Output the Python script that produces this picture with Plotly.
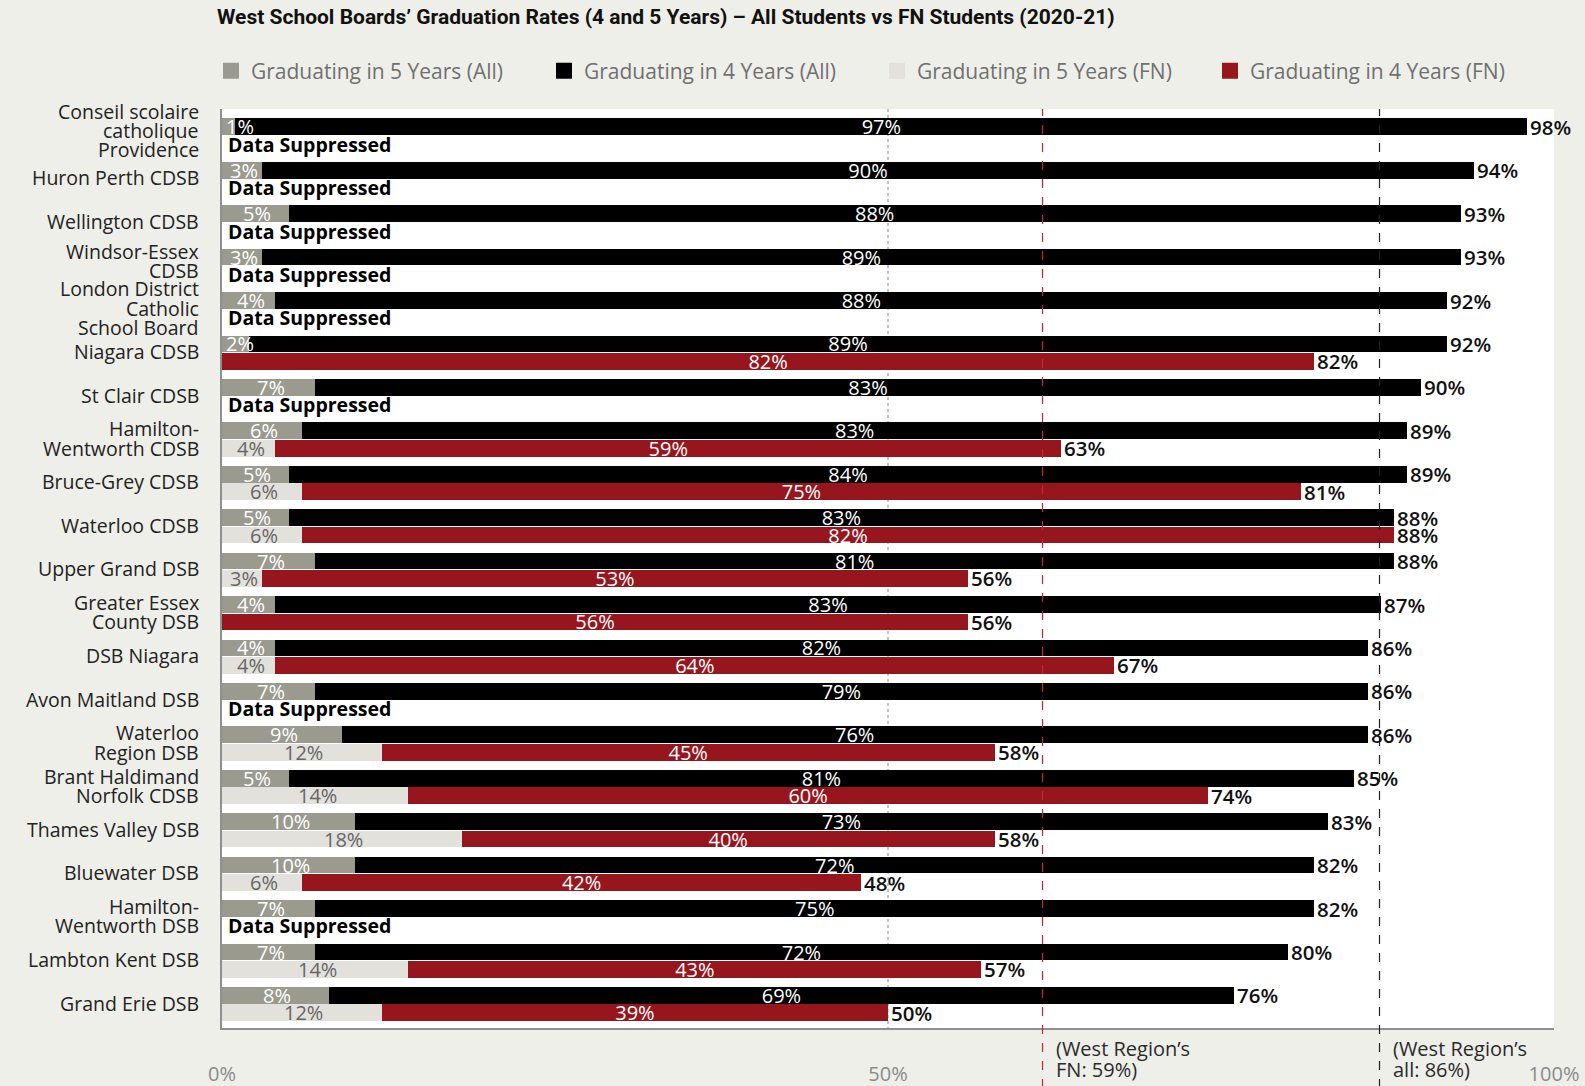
import plotly.graph_objects as go

# ---------------- data ----------------
boards = [
    "Conseil scolaire\ncatholique\nProvidence",
    "Huron Perth CDSB",
    "Wellington CDSB",
    "Windsor-Essex\nCDSB",
    "London District\nCatholic\nSchool Board",
    "Niagara CDSB",
    "St Clair CDSB",
    "Hamilton-\nWentworth CDSB",
    "Bruce-Grey CDSB",
    "Waterloo CDSB",
    "Upper Grand DSB",
    "Greater Essex\nCounty DSB",
    "DSB Niagara",
    "Avon Maitland DSB",
    "Waterloo\nRegion DSB",
    "Brant Haldimand\nNorfolk CDSB",
    "Thames Valley DSB",
    "Bluewater DSB",
    "Hamilton-\nWentworth DSB",
    "Lambton Kent DSB",
    "Grand Erie DSB",
]
all_5yr = [1, 3, 5, 3, 4, 2, 7, 6, 5, 5, 7, 4, 4, 7, 9, 5, 10, 10, 7, 7, 8]
all_4yr = [97, 90, 88, 89, 88, 89, 83, 83, 84, 83, 81, 83, 82, 79, 76, 81, 73, 72, 75, 72, 69]
all_total = [98, 94, 93, 93, 92, 92, 90, 89, 89, 88, 88, 87, 86, 86, 86, 85, 83, 82, 82, 80, 76]
fn_5yr = [None, None, None, None, None, 0, None, 4, 6, 6, 3, 0, 4, None, 12, 14, 18, 6, None, 14, 12]
fn_4yr = [None, None, None, None, None, 82, None, 59, 75, 82, 53, 56, 64, None, 45, 60, 40, 42, None, 43, 39]
fn_total = [None, None, None, None, None, 82, None, 63, 81, 88, 56, 56, 67, None, 58, 74, 58, 48, None, 57, 50]

x_ticks = [0, 50, 100]
x_tick_labels = ["0%", "50%", "100%"]
region_marks = [61.6, 86.9]
region_labels = [["(West Region’s", "FN: 59%)"], ["(West Region’s", "all: 86%)"]]
region_colors = ["#c8262c", "#222222"]

series_names = [
    "Graduating in 5 Years (All)",
    "Graduating in 4 Years (All)",
    "Graduating in 5 Years (FN)",
    "Graduating in 4 Years (FN)",
]

# ---------------- styles ----------------
GREY = "#9a9a8f"
BLACK = "#000000"
LIGHT = "#e2e1dc"
RED = "#97161e"
BG = "#efefea"
FONT = "Open Sans"
series_colors = [GREY, BLACK, LIGHT, RED]
label_nudge = {0: 4, 3: 4}  # px, small upward nudges for crowded multi-line labels

n = len(boards)
idx = list(range(n))
y_all = [i - 0.2 for i in idx]
y_fn = [i + 0.2 for i in idx]
BW = 0.385

all_4_len = [t - f for t, f in zip(all_total, all_5yr)]
fn_4_len = [None if t is None else t - f for t, f in zip(fn_total, fn_5yr)]


def pct(v):
    return "" if (v is None or v == 0) else f"{v}%"


fig = go.Figure()

bar_common = dict(orientation="h", width=BW, textposition="inside",
                  insidetextanchor="middle", textangle=0, constraintext="none",
                  hoverinfo="skip", marker_line_width=0, showlegend=False)
inside_font = dict(family=FONT, size=20, color="#ffffff", weight=500)

fig.add_trace(go.Bar(name=series_names[0], y=y_all, x=all_5yr, marker_color=GREY, **bar_common))
fig.add_trace(go.Bar(name=series_names[1], y=y_all, x=all_4_len, marker_color=BLACK,
                     text=[pct(v) for v in all_4yr], insidetextfont=inside_font, **bar_common))
fig.add_trace(go.Bar(name=series_names[2], y=y_fn, x=fn_5yr, marker_color=LIGHT, **bar_common))
fig.add_trace(go.Bar(name=series_names[3], y=y_fn, x=fn_4_len, marker_color=RED,
                     text=[pct(v) for v in fn_4yr], insidetextfont=inside_font, **bar_common))

# legend entries (square swatches)
for name, col in zip(series_names, series_colors):
    fig.add_trace(go.Scatter(x=[None], y=[None], mode="markers", name=name,
                             marker=dict(symbol="square", size=16, color=col, line=dict(width=0)),
                             hoverinfo="skip"))

annotations = []

# 5-year segment labels (drawn above the bars so overflowing text stays visible)
for vals, ys, col in ((all_5yr, y_all, "#ffffff"), (fn_5yr, y_fn, "#666666")):
    for v, yy in zip(vals, ys):
        if not v:
            continue
        annotations.append(dict(x=max(v / 2, 1.2), xref="x", xanchor="center", xshift=2,
                                y=yy, yref="y", yanchor="middle", text=f"{v}%", showarrow=False,
                                font=dict(family=FONT, size=20, color=col, weight=500)))

# totals at bar ends
for vals, ys in ((all_total, y_all), (fn_total, y_fn)):
    for v, yy in zip(vals, ys):
        if v is None:
            continue
        annotations.append(dict(x=v, xref="x", xanchor="left", xshift=1,
                                y=yy, yref="y", yanchor="middle", text=f"{v}%", showarrow=False,
                                font=dict(family=FONT, size=20.5, color="#111111", weight=600)))

# suppressed FN rows
for v, yy in zip(fn_total, y_fn):
    if v is None:
        annotations.append(dict(x=0, xref="x", xanchor="left", xshift=4,
                                y=yy, yref="y", yanchor="middle", text="Data Suppressed",
                                showarrow=False,
                                font=dict(family=FONT, size=19.5, color="#000000", weight=700)))

# category labels (tight line spacing)
LINE_H = 19.3
for i, name in enumerate(boards):
    lines = name.split("\n")
    m = (len(lines) - 1) / 2
    for k, ln in enumerate(lines):
        annotations.append(dict(x=0, xref="paper", xanchor="right", xshift=-21,
                                y=i, yref="y", yanchor="middle",
                                yshift=(m - k) * LINE_H + 1 + label_nudge.get(i, 0),
                                text=ln, showarrow=False,
                                font=dict(family=FONT, size=19.5, color="#222222")))

shapes = []
for mark, lab, col in zip(region_marks, region_labels, region_colors):
    shapes.append(dict(type="line", xref="x", yref="paper", x0=mark, x1=mark,
                       y0=-60 / 919, y1=1, line=dict(color=col, width=1.2, dash="dash"),
                       layer="above"))
    for k, ln in enumerate(lab):
        annotations.append(dict(x=mark, xref="x", xanchor="left", xshift=11,
                                y=0, yref="paper", yanchor="middle", yshift=-20 - 21.5 * k,
                                align="left", text=ln, showarrow=False,
                                font=dict(family=FONT, size=20, color="#2a2a2a")))

fig.update_layout(
    width=1585, height=1086, autosize=False,
    margin=dict(l=222, r=31, t=109, b=58, autoexpand=False),
    paper_bgcolor=BG, plot_bgcolor="#ffffff",
    barmode="stack",
    title=dict(text="West School Boards’ Graduation Rates (4 and 5 Years) – All Students vs FN Students (2020-21)",
               x=217 / 1585, xref="container", xanchor="left", y=1 - 17 / 1086, yref="container", yanchor="middle",
               font=dict(family="Roboto", size=21, color="#111111", weight=700)),
    legend=dict(orientation="h", xref="container", x=211 / 1585, xanchor="left",
                y=1 + 38 / 919, yanchor="middle", itemsizing="trace",
                traceorder="normal", font=dict(family=FONT, size=21, color="#707070"),
                bgcolor="rgba(0,0,0,0)", entrywidth=288, entrywidthmode="pixels"),
    xaxis=dict(range=[0, 100], tickvals=x_ticks, ticktext=x_tick_labels,
               showgrid=True, gridcolor="#c4c4c4", griddash="dot", gridwidth=1.5,
               zeroline=False, showline=True, linecolor="#8f8f8f", linewidth=2,
               ticks="", tickfont=dict(family=FONT, size=20, color="#8a8a8a"),
               ticklabelstandoff=27, automargin=False, fixedrange=True),
    yaxis=dict(range=[20.55, -0.61], showticklabels=False, showgrid=False, zeroline=False,
               showline=True, linecolor="#8f8f8f", linewidth=2, automargin=False, fixedrange=True),
    shapes=shapes,
    annotations=annotations,
    showlegend=True,
)

fig.write_html("out.html")
